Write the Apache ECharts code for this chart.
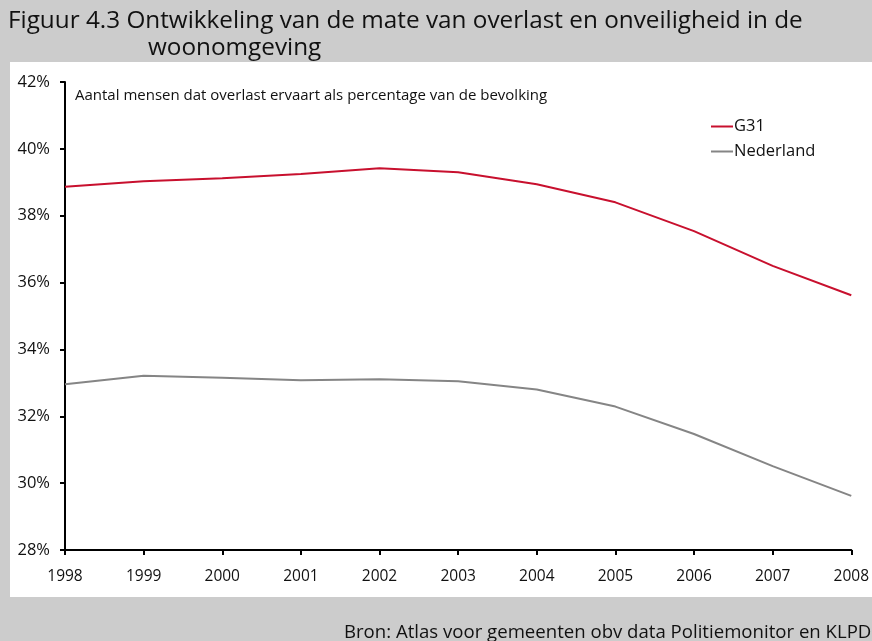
<!DOCTYPE html>
<html>
<head>
<meta charset="utf-8">
<script src="https://cdn.jsdelivr.net/npm/echarts@6/dist/echarts.min.js"></script>
<style>
    html, body { margin: 0; padding: 0; background: #cccccc; }
    #chart { width: 872px; height: 641px; }
</style>
</head>
<body>
<div id="chart"></div>
<script>
// data
const years = ['1998', '1999', '2000', '2001', '2002', '2003', '2004', '2005', '2006', '2007', '2008'];
const g31 = [38.87, 39.03, 39.12, 39.25, 39.42, 39.30, 38.94, 38.40, 37.54, 36.50, 35.62];
const nederland = [32.96, 33.21, 33.15, 33.08, 33.11, 33.05, 32.80, 32.29, 31.47, 30.51, 29.62];

const FONT = '"Open Sans", "DejaVu Sans", sans-serif';
const RED = '#c8102e';
const GREY = '#858585';

const chart = echarts.init(document.getElementById('chart'), null, { renderer: 'canvas' });

const option = {
    backgroundColor: '#cccccc',
    animation: false,
    textStyle: { fontFamily: FONT },
    graphic: [
        // white panel behind the plot
        {
            type: 'rect',
            z: -10,
            shape: { x: 10, y: 62, width: 870, height: 535 },
            style: { fill: '#ffffff' },
        },
        {
            type: 'text',
            left: 8,
            top: 9,
            style: {
                text: 'Figuur 4.3 Ontwikkeling van de mate van overlast en onveiligheid in de',
                font: '24.3px ' + FONT,
                fill: '#111111',
            },
        },
        {
            type: 'text',
            left: 148,
            top: 36,
            style: {
                text: 'woonomgeving',
                font: '24.3px ' + FONT,
                fill: '#111111',
            },
        },
        {
            type: 'text',
            left: 75,
            top: 88,
            style: {
                text: 'Aantal mensen dat overlast ervaart als percentage van de bevolking',
                font: '15px ' + FONT,
                fill: '#111111',
            },
        },
        {
            type: 'text',
            left: 344,
            top: 623,
            style: {
                text: 'Bron: Atlas voor gemeenten obv data Politiemonitor en KLPD',
                font: '18.6px ' + FONT,
                fill: '#111111',
            },
        },
    ],
    legend: {
        orient: 'vertical',
        left: 706,
        top: 113,
        itemGap: 8,
        itemWidth: 22,
        itemHeight: 2,
        icon: 'rect',
        textStyle: { fontSize: 16.5, color: '#111111', fontFamily: FONT, padding: [0, 0, 0, -4] },
        data: ['G31', 'Nederland'],
    },
    grid: {
        left: 65,
        right: 18,
        top: 82,
        bottom: 91,
    },
    xAxis: {
        type: 'category',
        data: years,
        boundaryGap: false,
        axisLine: { lineStyle: { color: '#000000', width: 2 } },
        axisTick: { length: 5, lineStyle: { color: '#000000', width: 2 } },
        axisLabel: { color: '#111111', fontSize: 15.5, margin: 19, fontFamily: FONT },
        splitLine: { show: false },
    },
    yAxis: {
        type: 'value',
        min: 28,
        max: 42,
        interval: 2,
        axisLine: { show: true, lineStyle: { color: '#000000', width: 2 } },
        axisTick: { show: true, length: 5, lineStyle: { color: '#000000', width: 2 } },
        axisLabel: { color: '#111111', fontSize: 16.5, margin: 15, formatter: '{value}%', fontFamily: FONT },
        splitLine: { show: false },
    },
    series: [
        {
            name: 'G31',
            type: 'line',
            data: g31,
            symbol: 'none',
            lineStyle: { color: RED, width: 2 },
            itemStyle: { color: RED },
        },
        {
            name: 'Nederland',
            type: 'line',
            data: nederland,
            symbol: 'none',
            lineStyle: { color: GREY, width: 2 },
            itemStyle: { color: GREY },
        },
    ],
};

chart.setOption(option);
</script>
</body>
</html>
